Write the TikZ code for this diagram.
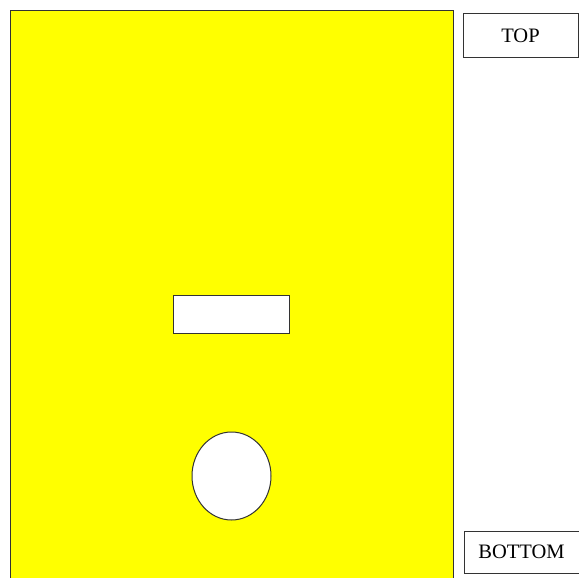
\documentclass[tikz,border=0pt]{standalone}
\usepackage{fontspec}
\setmainfont{Liberation Serif}
\usetikzlibrary{shapes.geometric}
\definecolor{panelyellow}{RGB}{255,255,0}
\begin{document}
\begin{tikzpicture}[x=1pt,y=-1pt,
  outline/.style={draw=black!80,line width=1pt},
  label/.style={outline,fill=white,minimum width=115pt,minimum height=44pt,inner sep=0pt,font=\fontsize{20.5}{22}\selectfont}]
\useasboundingbox (0,0) rectangle (579,578);
\fill[white] (0,0) rectangle (579,578);
\draw[outline,fill=panelyellow] (10,11) rectangle (453,600);
\node[outline,fill=white,minimum width=116pt,minimum height=38pt,inner sep=0pt] (slot) at (231,314) {};
\node[outline,fill=white,ellipse,minimum width=79pt,minimum height=88pt,inner sep=0pt] (hole) at (231.5,476) {};
\node[label] (top) at (520.5,36) {TOP};
\node[label,minimum height=42pt] (bottom) at (521.5,552) {BOTTOM};
\end{tikzpicture}
\end{document}
